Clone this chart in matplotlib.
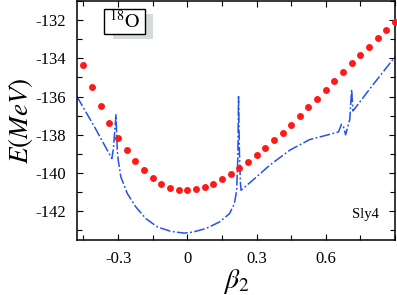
import matplotlib
matplotlib.use("Agg")
import matplotlib.pyplot as plt
from matplotlib.patches import Rectangle
from matplotlib.ticker import MultipleLocator

# red dots (beta2, E in MeV)
beta_dots = [-0.45, -0.4125, -0.375, -0.3375, -0.3, -0.2625, -0.225, -0.1875,
             -0.15, -0.1125, -0.075, -0.0375, 0.0, 0.0375, 0.075, 0.1125, 0.15,
             0.1875, 0.225, 0.2625, 0.3, 0.3375, 0.375, 0.4125, 0.45, 0.4875,
             0.525, 0.5625, 0.6, 0.6375, 0.675, 0.7125, 0.75, 0.7875, 0.825,
             0.8625, 0.9]
e_dots = [-134.36, -135.51, -136.50, -137.39, -138.16, -138.79, -139.35, -139.85,
          -140.24, -140.55, -140.76, -140.87, -140.88, -140.85, -140.74, -140.55,
          -140.31, -140.05, -139.75, -139.42, -139.05, -138.68, -138.28, -137.88,
          -137.48, -137.03, -136.57, -136.12, -135.65, -135.18, -134.71, -134.25,
          -133.80, -133.38, -132.94, -132.54, -132.10]

# blue dash-dot curve
beta_line = [-0.478, -0.40, -0.327, -0.320, -0.309, -0.306, -0.303, -0.299,
             -0.288, -0.26, -0.223, -0.18, -0.129, -0.071, -0.013, 0.023, 0.081,
             0.139, 0.183, 0.204, 0.214, 0.219, 0.222, 0.226, 0.230, 0.233, 0.30,
             0.357, 0.443, 0.53, 0.603, 0.655, 0.668, 0.676, 0.686, 0.695, 0.704,
             0.712, 0.718, 0.80, 0.90]
e_line = [-136.00, -137.63, -139.24, -138.70, -136.95, -138.0, -138.9, -139.35,
          -140.2, -141.07, -141.77, -142.38, -142.82, -143.05, -143.14, -143.09,
          -142.9, -142.56, -142.12, -141.6, -140.9, -139.16, -136.0, -139.0,
          -140.5, -140.9, -140.2, -139.59, -138.81, -138.25, -138.02, -137.85,
          -137.45, -137.55, -138.0, -137.6, -137.2, -135.63, -136.75, -135.45,
          -133.92]

xticks = [-0.3, 0, 0.3, 0.6]
xticklabels = ["-0.3", "0", "0.3", "0.6"]
yticks = [-142, -140, -138, -136, -134, -132]

plt.rcParams['font.family'] = ['Liberation Serif', 'DejaVu Serif']
plt.rcParams['mathtext.fontset'] = 'stix'

W, H = 397, 295
fig = plt.figure(figsize=(W / 100, H / 100), dpi=100)
ax = fig.add_axes([77 / W, 1 - 240 / H, (395 - 77) / W, 239 / H])

ax.plot(beta_line, e_line, color='#2352ec', lw=1.1,
        linestyle=(0, (7, 1.6, 1.2, 1.6)))
ax.plot(beta_dots, e_dots, 'o', color='#ff1a1a', ms=5.0, mec='none',
        clip_on=False, zorder=3)

ax.set_xlim(-0.478, 0.9)
ax.set_ylim(-143.5, -131)
ax.set_xticks(xticks)
ax.set_xticklabels(xticklabels)
ax.set_yticks(yticks)
ax.set_yticklabels([str(v) for v in yticks])
ax.xaxis.set_minor_locator(MultipleLocator(0.15))
ax.yaxis.set_minor_locator(MultipleLocator(1))
ax.tick_params(which='both', direction='in', top=True, right=True,
               labelsize=12, width=0.8)
ax.tick_params(which='major', length=4.5, pad=8)
ax.tick_params(which='minor', length=3.5)
for s in ax.spines.values():
    s.set_linewidth(1.1)

ax.set_ylabel(r'$E(MeV)$', fontsize=19.5, labelpad=0)
ax.set_xlabel(r'$\beta_2$', fontsize=20, labelpad=0)

ax.text(379 / W, 1 - 218 / H, 'Sly4', transform=fig.transFigure,
        ha='right', va='baseline', fontsize=10.5)

# nucleus label with shadowed box
fig.patches.append(Rectangle((113 / W, 1 - 39 / H), 40 / W, 25 / H,
                             transform=fig.transFigure, facecolor='#d5dcdb',
                             edgecolor='none', zorder=5))
fig.patches.append(Rectangle((104 / W, 1 - 34 / H), 41 / W, 25 / H,
                             transform=fig.transFigure, facecolor='white',
                             edgecolor='black', lw=1.0, zorder=6))
fig.text(124.5 / W, 1 - 21.5 / H, r'$^{18}\mathrm{O}$', ha='center',
         va='center', fontsize=14.5, zorder=7)

fig.savefig('out.png', dpi=100)
